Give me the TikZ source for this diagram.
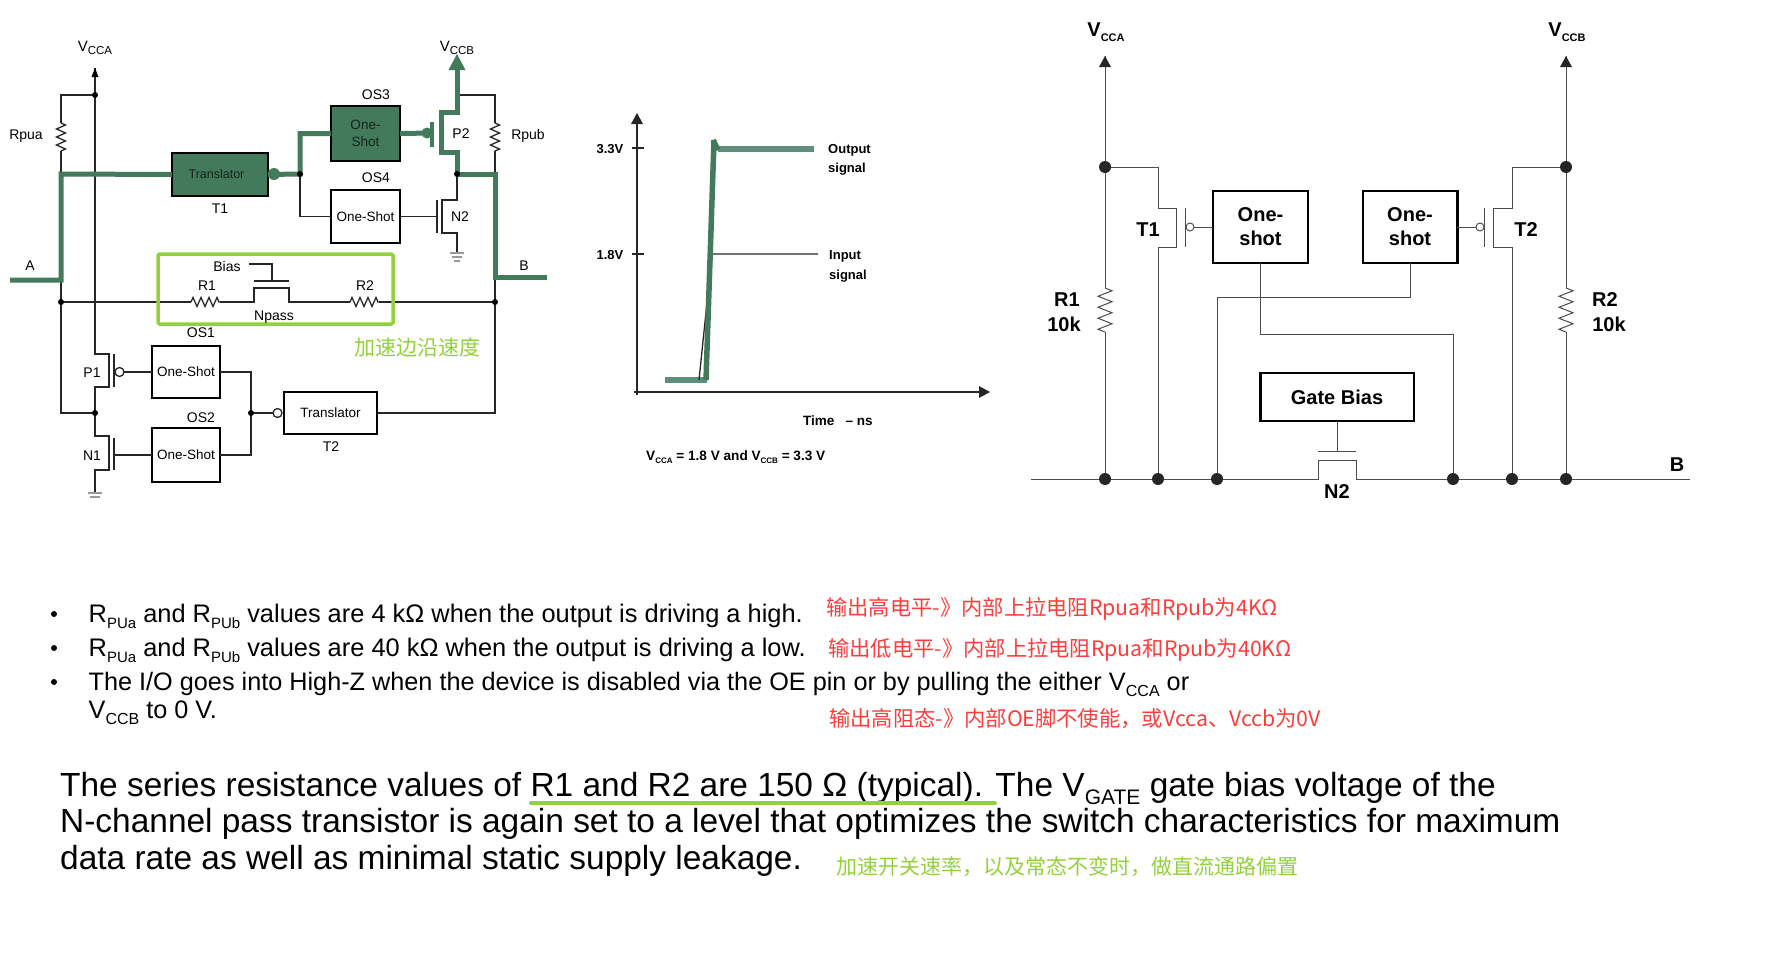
\documentclass[tikz,border=0pt]{standalone}
\usepackage{fontspec}
\setmainfont{Liberation Sans}
\newfontfamily\cjk{Noto Sans CJK SC}
\usetikzlibrary{decorations.pathmorphing}
\definecolor{pathgreen}{HTML}{427A5B}
\definecolor{lowgreen}{HTML}{5F8F7C}
\definecolor{markgreen}{HTML}{92D13B}
\definecolor{notered}{HTML}{FF3B3B}
\newcommand{\fs}[1]{\fontsize{#1}{#1}\selectfont}
\newcommand{\vsub}[3]{#1\raisebox{-0.25em}{\fs{#3}#2}}
\tikzset{
  wire/.style={line width=1.3pt,black!85},
  thin wire/.style={line width=1pt,black!70},
  hot/.style={line width=5pt,pathgreen},
  res/.style={decorate,decoration={zigzag,segment length=8pt,amplitude=4.5pt}},
  bigres/.style={decorate,decoration={zigzag,segment length=11pt,amplitude=7pt}},
  lab/.style={inner sep=0pt,font=\fs{14}},
  blab/.style={inner sep=0pt,font=\fs{20}\bfseries},
  gr/.style={inner sep=0pt,font=\fs{13}\bfseries},
  oslbox/.style={draw,line width=2pt,outer sep=0pt,inner sep=0pt,align=center,font=\fs{13.5}},
  osrbox/.style={draw,line width=2.5pt,outer sep=0pt,inner sep=0pt,align=center,font=\fs{20}\bfseries},
  txt/.style={inner sep=0pt,anchor=base west,font=\fs{25.4}},
  para/.style={inner sep=0pt,anchor=base west,font=\fs{33.45}},
  note/.style={inner sep=0pt,anchor=west,font=\cjk\fs{21.3}}
}
\begin{document}
\begin{tikzpicture}[x=1pt,y=1pt]
\useasboundingbox (0,0) rectangle (1771,-954);
% left circuit, boxes
\node[oslbox,fill=pathgreen,text=black!70!pathgreen,minimum width=96pt,minimum height=43pt,font=\fs{12.5}] (tr1) at (220,-174.5) {\hspace*{-7pt}Translator};
\node[oslbox,fill=pathgreen,text=black!70!pathgreen,minimum width=69pt,minimum height=55pt] (os3) at (365.5,-133.5) {One-\\[3pt]Shot};
\node[oslbox,minimum width=69pt,minimum height=53pt] (os4) at (365.5,-216.5) {One-Shot};
\node[oslbox,minimum width=68pt,minimum height=52pt] (os1) at (186,-372) {One-Shot};
\node[oslbox,minimum width=68pt,minimum height=54pt] (os2) at (186,-455) {One-Shot};
\node[oslbox,minimum width=93pt,minimum height=42pt] (tr2) at (330.5,-413) {Translator};
% left circuit, points
\coordinate (atip) at (95,-68);
\coordinate (atop) at (95,-95);
\coordinate (ltop) at (61,-95);
\coordinate (ra1) at (61,-123);
\coordinate (ra2) at (61,-151);
\coordinate (lhot) at (61,-174);
\coordinate (lend) at (61,-280);
\coordinate (aend) at (10,-280);
\coordinate (lbus) at (61,-302);
\coordinate (lmid) at (61,-413);
\coordinate (amid) at (95,-413);
\coordinate (rbus) at (495,-302);
\coordinate (rtop) at (495,-95);
\coordinate (btop) at (457,-95);
\coordinate (rb1) at (495,-123);
\coordinate (rb2) at (495,-151);
\coordinate (rhot) at (495,-174);
\coordinate (rend) at (495,-277);
\coordinate (bend) at (547,-277);
\coordinate (bhot) at (457,-174);
\coordinate (split) at (300,-174);
\coordinate (join) at (251,-413);
% left circuit, thin wires
\draw[wire] (atip) -- (95,-354) -- (109,-354) -- (109,-387) -- (95,-387) -- (amid) -- (95,-436) -- (109,-436) -- (109,-470) -- (95,-470) -- (95,-493);
\draw[wire] (atop) -- (ltop) -- (ra1);
\draw[wire,res] (ra1) -- (ra2);
\draw[wire] (ra2) -- (lhot);
\draw[wire] (lend) -- (lbus) -- (lmid) -- (amid);
\draw[wire] (btop) -- (rtop) -- (rb1);
\draw[wire,res] (rb1) -- (rb2);
\draw[wire] (rb2) -- (rhot);
\draw[wire] (rend) -- (rbus) |- (tr2.east);
\draw[wire] (split) |- (os4.west);
\draw[wire] (os4.east) -- (437,-216.5);
\draw[wire] (437,-200) -- (437,-233);
\draw[wire] (bhot) -- (457,-200) -- (442,-200) -- (442,-233) -- (457,-233) -- (457,-253);
\draw[wire,black!40] (450,-253) -- (464,-253) (452,-257) -- (462,-257) (454,-261) -- (460,-261);
\draw[wire,black!40] (88,-493) -- (102,-493) (90,-497) -- (100,-497);
\draw[wire,line width=2pt] (114,-354) -- (114,-387) (114,-438) -- (114,-470);
\draw[wire] (os1.west) -- (124,-372);
\draw[wire] (119.5,-372) circle (4.5);
\draw[wire] (os2.west) -- (114,-455);
\draw[wire] (os1.east) -| (join) |- (os2.east);
\draw[wire] (join) -- (273,-413);
\draw[wire] (277.5,-413) circle (4.5);
% pass branch
\draw[wire] (lbus) -- (191,-302);
\draw[wire,res] (191,-302) -- (220,-302);
\draw[wire] (220,-302) -- (254,-302) -- (254,-288) -- (289,-288) -- (289,-302) -- (350,-302);
\draw[wire,res] (350,-302) -- (379,-302);
\draw[wire] (379,-302) -- (rbus);
\draw[wire,line width=2pt] (254,-281) -- (289,-281);
\draw[wire] (272,-281) -- (272,-264) -- (249,-264);
% left circuit, hot path
\draw[hot] (aend) -- (lend) -- (lhot) -- (tr1.west);
\draw[hot] (tr1.east) -- (split) |- (os3.west);
\draw[hot] (os3.east) -- (432,-133);
\draw[hot,line width=4pt] (432,-122) -- (432,-147);
\fill[pathgreen] (427,-133) circle (5.5) (274,-174) circle (6);
\draw[hot] (bhot) -- (457,-152) -- (441,-152) -- (441,-112) -- (457,-112) -- (457,-68);
\fill[pathgreen] (457,-54) -- (465.5,-70) -- (448.5,-70) -- cycle;
\draw[hot] (bhot) -- (rhot) -- (rend) -- (bend);
\fill (95,-68) -- (98.5,-77) -- (91.5,-77) -- cycle;
\foreach \p in {atop,lbus,rbus,amid,join,bhot,split} \fill (\p) circle (3);
\draw[markgreen,line width=3.5pt,rounded corners=1.5pt] (158,-254) rectangle (393,-324);
% left circuit, labels
\node[lab,font=\fs{15}] (lva) at (95,-48) {\vsub{V}{CCA}{11.5}};
\node[lab,font=\fs{15}] (lvb) at (457,-48) {\vsub{V}{CCB}{11.5}};
\node[lab] (lrpa) at (26,-136) {Rpua};
\node[lab] (lrpb) at (528,-136) {Rpub};
\node[lab] (lt1) at (220,-209) {T1};
\node[lab] (los3) at (376,-95) {OS3};
\node[lab] (los4) at (376,-178) {OS4};
\node[lab] (lp2) at (461,-134) {P2};
\node[lab] (ln2) at (460,-217) {N2};
\node[lab] (la) at (30,-266) {A};
\node[lab] (lb) at (524,-266) {B};
\node[lab] (lbias) at (227,-266) {Bias};
\node[lab] (lr1) at (207,-286) {R1};
\node[lab] (lr2) at (365,-286) {R2};
\node[lab] (lnp) at (274,-317) {Npass};
\node[lab] (los1) at (201,-333) {OS1};
\node[lab] (los2) at (201,-418) {OS2};
\node[lab] (lp1) at (92,-373) {P1};
\node[lab] (ln1) at (92,-456) {N1};
\node[lab] (lt2) at (331,-447) {T2};
\node[inner sep=0pt,anchor=west,font=\cjk\fs{21},text=markgreen] (lnote) at (354,-347) {加速边沿速度};
% waveform
\coordinate (org) at (637,-392);
\coordinate (ytop) at (637,-113);
\coordinate (xend) at (990,-392);
\draw[line width=2pt,black!85] (637,-395) -- (637,-124);
\draw[line width=2pt,black!85] (634,-392) -- (979,-392);
\fill[black!85] (ytop) -- (643,-124) -- (631,-124) -- cycle;
\fill[black!85] (xend) -- (979,-386) -- (979,-398) -- cycle;
\draw[wire] (632,-148) -- (644,-148) (632,-254) -- (644,-254);
\draw[lowgreen,line width=6pt] (665,-380) -- (707,-380);
\draw[lowgreen,line width=6pt] (718,-149) -- (814,-149);
\draw[wire] (699,-380) -- (712,-254) -- (818,-254);
\draw[pathgreen,line width=5.5pt] (706,-380) -- (714,-140) (713,-140) -- (718,-150);
\node[gr] (v33) at (610,-149) {3.3V};
\node[gr] (v18) at (610,-255) {1.8V};
\node[gr,anchor=west] (gout) at (828,-150) {Output};
\node[gr,anchor=west] (gouts) at (828,-169) {signal};
\node[gr,anchor=west] (gin) at (829,-256) {Input};
\node[gr,anchor=west] (gins) at (829,-276) {signal};
\node[gr,anchor=west,font=\fs{13.5}\bfseries] (gtime) at (803,-421) {Time\ \ \ – ns};
\node[gr,anchor=west,font=\fs{13.6}\bfseries] (gcond) at (646,-457) {\vsub{V}{CCA}{8} = 1.8 V and \vsub{V}{CCB}{8} = 3.3 V};
% right circuit
\node[osrbox,minimum width=95pt,minimum height=72pt] (sh1) at (1260.5,-227) {One-\\[4pt]shot};
\node[osrbox,minimum width=94.5pt,minimum height=72pt] (sh2) at (1410,-227) {One-\\[4pt]shot};
\node[osrbox,minimum width=153.5pt,minimum height=48pt] (gb) at (1337,-397) {Gate Bias};
\coordinate (vat) at (1105,-56);
\coordinate (vbt) at (1566,-56);
\coordinate (ja) at (1105,-167);
\coordinate (jb) at (1566,-167);
\coordinate (r1a) at (1105,-288);
\coordinate (r1b) at (1105,-332);
\coordinate (r2a) at (1566,-288);
\coordinate (r2b) at (1566,-332);
\coordinate (bl) at (1031,-479);
\coordinate (br) at (1690,-479);
\coordinate (d1) at (1105,-479);
\coordinate (d2) at (1158,-479);
\coordinate (d3) at (1217,-479);
\coordinate (d4) at (1453,-479);
\coordinate (d5) at (1512,-479);
\coordinate (d6) at (1566,-479);
\draw[thin wire] (vat) -- (ja) -- (r1a);
\draw[thin wire,bigres] (r1a) -- (r1b);
\draw[thin wire] (r1b) -- (d1);
\draw[thin wire] (vbt) -- (jb) -- (r2a);
\draw[thin wire,bigres] (r2a) -- (r2b);
\draw[thin wire] (r2b) -- (d6);
\draw[thin wire] (ja) -- (1158,-167) -- (1158,-208) -- (1176,-208) -- (1176,-247) -- (1158,-247) -- (d2);
\draw[thin wire] (jb) -- (1512,-167) -- (1512,-208) -- (1493,-208) -- (1493,-247) -- (1512,-247) -- (d5);
\draw[thin wire] (1185,-208) -- (1185,-247) (1484.5,-208) -- (1484.5,-247);
\draw[thin wire] (1190,-227) circle (4);
\draw[thin wire] (1480,-227) circle (4);
\draw[thin wire] (sh1.west) -- (1194,-227);
\draw[thin wire] (sh2.east) -- (1476,-227);
\draw[thin wire] (sh2.south) -- (1410,-297) -- (1217,-297) -- (d3);
\draw[thin wire] (sh1.south) -- (1260.5,-334) -- (1453,-334) -- (d4);
\draw[thin wire] (bl) -- (1318,-479) -- (1318,-460) -- (1356,-460) -- (1356,-479) -- (br);
\draw[thin wire] (1318,-451) -- (1356,-451);
\draw[thin wire] (gb.south) -- (1337,-451);
\fill[black!85] (vat) -- (1111,-67) -- (1099,-67) -- cycle;
\fill[black!85] (vbt) -- (1572,-67) -- (1560,-67) -- cycle;
\foreach \p in {ja,jb,d1,d2,d3,d4,d5,d6} \fill[black!85] (\p) circle (6);
\node[blab] (rva) at (1106,-32) {\vsub{V}{CCA}{11}};
\node[blab] (rvb) at (1567,-32) {\vsub{V}{CCB}{11}};
\node[blab] (rt1) at (1148,-230) {T1};
\node[blab] (rt2) at (1526,-230) {T2};
\node[blab] (rr1) at (1067,-300) {R1};
\node[blab] (rk1) at (1064,-324) {10k};
\node[blab] (rr2) at (1605,-300) {R2};
\node[blab] (rk2) at (1609,-324) {10k};
\node[blab] (rn2) at (1337,-492) {N2};
\node[blab] (rb) at (1677,-465) {B};
% bullets
\foreach \y in {614,648,682} \fill (54,-\y) circle (3);
\node[txt] (l1) at (88.5,-622) {\vsub{R}{PUa}{15} and \vsub{R}{PUb}{15} values are 4 kΩ when the output is driving a high.};
\node[txt] (l2) at (88.5,-656) {\vsub{R}{PUa}{15} and \vsub{R}{PUb}{15} values are 40 kΩ when the output is driving a low.};
\node[txt,font=\fs{25.25}] (l3) at (88.5,-690) {The I/O goes into High-Z when the device is disabled via the OE pin or by pulling the either \vsub{V}{CCA}{16} or};
\node[txt,font=\fs{25.25}] (l4) at (88.5,-718) {\vsub{V}{CCB}{16} to 0 V.};
\node[note,text=notered] (n1) at (826,-609) {输出高电平-》内部上拉电阻Rpua和Rpub为4KΩ};
\node[note,text=notered] (n2) at (828,-650) {输出低电平-》内部上拉电阻Rpua和Rpub为40KΩ};
\node[note,text=notered] (n3) at (829,-719) {输出高阻态-》内部OE脚不使能，或Vcca、Vccb为0V};
% paragraph
\node[para] (p1) at (60,-796) {The series resistance values of R1 and R2 are 150 Ω (typical). The \vsub{V}{GATE}{21} gate bias voltage of the};
\node[para] (p2) at (60,-832) {N-channel pass transistor is again set to a level that optimizes the switch characteristics for maximum};
\node[para] (p3) at (60,-869) {data rate as well as minimal static supply leakage.};
\coordinate (ula) at (531,-803);
\coordinate (ulb) at (995,-803);
\draw[markgreen,line width=4pt,line cap=round] (ula) -- (ulb);
\node[note,text=markgreen,font=\cjk\fs{21}] (n4) at (836,-867) {加速开关速率，以及常态不变时，做直流通路偏置};
\end{tikzpicture}
\end{document}
